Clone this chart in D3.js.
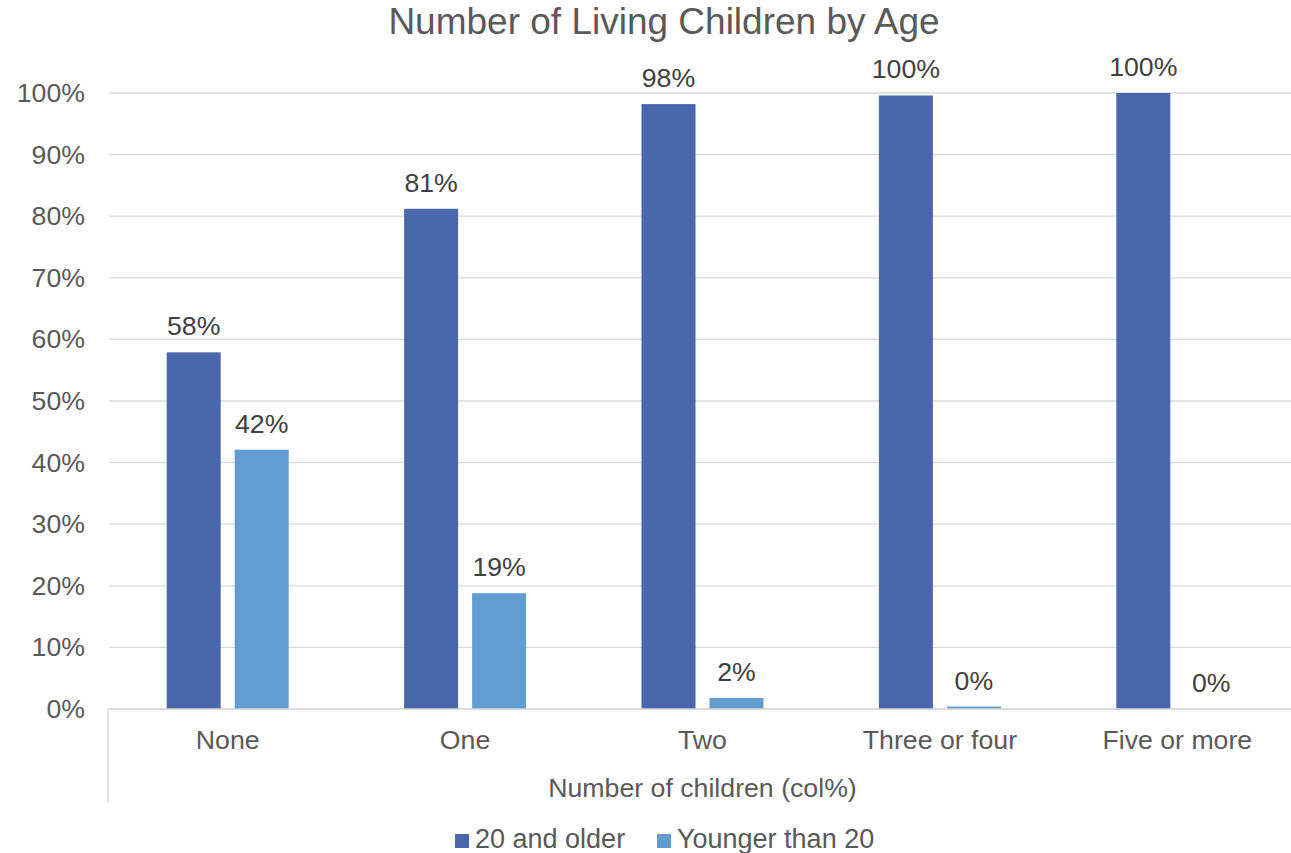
<!DOCTYPE html>
<html>
<head>
<meta charset="utf-8">
<script src="https://cdn.jsdelivr.net/npm/d3@7"></script>
<style>
  html, body { margin: 0; padding: 0; background: #fff; overflow: hidden; }
  svg { display: block; font-family: "Liberation Sans", Arial, sans-serif; }
</style>
</head>
<body>
<svg id="chart" width="1291" height="853"></svg>
<script>
// Chart data
const categories = ["None", "One", "Two", "Three or four", "Five or more"];
const seriesNames = ["20 and older", "Younger than 20"];
const olderValues = [57.9, 81.2, 98.2, 99.6, 100];
const youngerValues = [42.1, 18.8, 1.8, 0.4, 0];
const valueLabels = [["58%", "81%", "98%", "100%", "100%"], ["42%", "19%", "2%", "0%", "0%"]];
const yTicks = [0, 10, 20, 30, 40, 50, 60, 70, 80, 90, 100];
const colors = ["#4A66AC", "#629DD1"];

const svg = d3.select("#chart");
const W = 1291, H = 853;
const plotLeft = 109, plotRight = 1296, plotTop = 93, plotBottom = 709;
const FS = 26.7;

const x = d3.scaleBand().domain(categories).range([plotLeft, plotRight]);
const y = d3.scaleLinear().domain([0, 100]).range([plotBottom, plotTop]);

// Gridlines
svg.append("g")
  .selectAll("line")
  .data(yTicks)
  .join("line")
  .attr("x1", plotLeft).attr("x2", plotRight)
  .attr("y1", d => y(d)).attr("y2", d => y(d))
  .attr("stroke", "#d9d9d9").attr("stroke-width", 1.3);

// Y axis labels
const yAxis = d3.axisLeft(y).tickValues(yTicks).tickFormat(d => d + "%").tickSize(0).tickPadding(24);
const gy = svg.append("g").attr("transform", `translate(${plotLeft},0)`).call(yAxis);
gy.select(".domain").remove();
gy.selectAll("text").attr("font-size", FS).attr("fill", "#595959")
  .attr("font-family", "'Liberation Sans', Arial, sans-serif");

// Bars with value labels
const barW = 54, gap = 14;
const rows = categories.map((c, i) => ({ c, i, vals: [olderValues[i], youngerValues[i]] }));
const groups = svg.append("g").selectAll("g").data(rows).join("g");
groups.each(function (r) {
  const g = d3.select(this);
  const cx = x(r.c) + x.bandwidth() / 2;
  r.vals.forEach((v, s) => {
    const bx = cx + (s === 0 ? -(gap / 2 + barW) : gap / 2);
    g.append("rect")
      .attr("x", bx).attr("width", barW)
      .attr("y", y(v)).attr("height", plotBottom - y(v))
      .attr("fill", colors[s]);
    g.append("text")
      .attr("x", bx + barW / 2).attr("y", y(v) - 17)
      .attr("text-anchor", "middle")
      .attr("font-size", FS).attr("fill", "#404040")
      .text(valueLabels[s][r.i]);
  });
});

// Category axis line and outer border
svg.append("line")
  .attr("x1", plotLeft).attr("x2", plotRight)
  .attr("y1", plotBottom).attr("y2", plotBottom)
  .attr("stroke", "#d9d9d9").attr("stroke-width", 1.5);
svg.append("line")
  .attr("x1", plotLeft - 1).attr("x2", plotLeft - 1)
  .attr("y1", plotBottom).attr("y2", 803)
  .attr("stroke", "#d9d9d9").attr("stroke-width", 1.5);

// Category labels
svg.append("g").selectAll("text").data(categories).join("text")
  .attr("x", d => x(d) + x.bandwidth() / 2).attr("y", 749)
  .attr("text-anchor", "middle").attr("font-size", FS).attr("fill", "#595959")
  .text(d => d);

// Axis title
svg.append("text")
  .attr("x", (plotLeft + plotRight) / 2).attr("y", 797)
  .attr("text-anchor", "middle").attr("font-size", FS).attr("fill", "#595959")
  .text("Number of children (col%)");

// Title
svg.append("text")
  .attr("x", 664).attr("y", 34)
  .attr("text-anchor", "middle").attr("font-size", 37).attr("fill", "#595959")
  .text("Number of Living Children by Age");

// Legend
const legendItems = [{ name: seriesNames[0], x: 455 }, { name: seriesNames[1], x: 657 }];
const lg = svg.append("g").selectAll("g").data(legendItems).join("g")
  .attr("transform", (d) => `translate(${d.x},0)`);
lg.append("rect").attr("x", 0).attr("y", 834).attr("width", 14).attr("height", 14)
  .attr("fill", (d, i) => colors[i]);
lg.append("text").attr("x", 20).attr("y", 848)
  .attr("font-size", 27).attr("fill", "#595959").text(d => d.name);
</script>
</body>
</html>
